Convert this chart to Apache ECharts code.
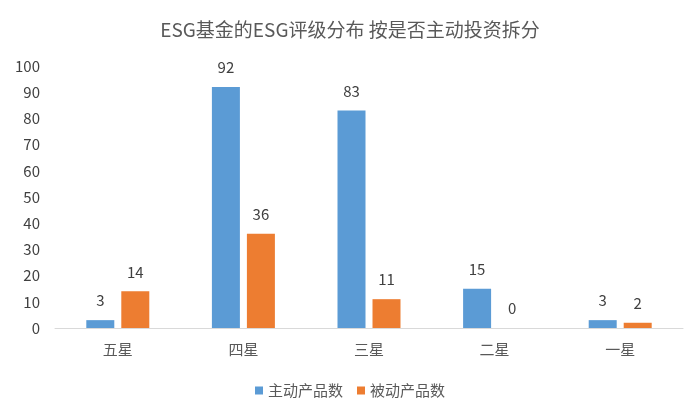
<!DOCTYPE html>
<html>
<head>
<meta charset="utf-8">
<script src="https://cdn.jsdelivr.net/npm/echarts@6/dist/echarts.min.js"></script>
<style>
  html, body { margin: 0; padding: 0; background: #fff; }
  #main { width: 700px; height: 420px; }
</style>
</head>
<body>
<div id="main"></div>
<script>
// 评级类别
var categories = ['五星', '四星', '三星', '二星', '一星'];
// 主动 / 被动
var activeCounts = [3, 92, 83, 15, 3];
var passiveCounts = [14, 36, 11, 0, 2];
var yTicks = [0, 100, 10];

var fontFam = '"Noto Sans CJK SC", "Open Sans", sans-serif';
var chart = echarts.init(document.getElementById('main'));

var option = {
    backgroundColor: '#ffffff',
    textStyle: { fontFamily: fontFam },
    title: {
        text: 'ESG基金的ESG评级分布 按是否主动投资拆分',
        left: 'center',
        top: 15,
        textStyle: { fontSize: 19, fontWeight: 'normal', color: '#595959', fontFamily: fontFam }
    },
    legend: {
        bottom: 17,
        left: 'center',
        itemWidth: 8,
        itemHeight: 8,
        itemGap: 14,
        icon: 'rect',
        textStyle: { fontSize: 15, color: '#595959', fontFamily: fontFam },
        data: ['主动产品数', '被动产品数']
    },
    grid: { left: 55, right: 17, top: 66, bottom: 92 },
    xAxis: {
        type: 'category',
        data: categories,
        axisTick: { show: false },
        axisLine: { lineStyle: { color: '#d9d9d9', width: 1 } },
        axisLabel: { fontSize: 15, color: '#595959', margin: 14 }
    },
    yAxis: {
        type: 'value',
        min: yTicks[0],
        max: yTicks[1],
        interval: yTicks[2],
        splitLine: { show: false },
        axisLine: { show: false },
        axisTick: { show: false },
        axisLabel: { fontSize: 15, color: '#404040', margin: 15 }
    },
    series: [
        {
            name: '主动产品数',
            type: 'bar',
            data: activeCounts,
            barWidth: 28,
            barGap: '25%',
            itemStyle: { color: '#5b9bd5' },
            label: { show: true, position: 'top', distance: 12, fontSize: 15, color: '#404040' }
        },
        {
            name: '被动产品数',
            type: 'bar',
            data: passiveCounts,
            barWidth: 28,
            barGap: '25%',
            itemStyle: { color: '#ed7d31' },
            label: { show: true, position: 'top', distance: 12, fontSize: 15, color: '#404040' }
        }
    ]
};
chart.setOption(option);
</script>
</body>
</html>
